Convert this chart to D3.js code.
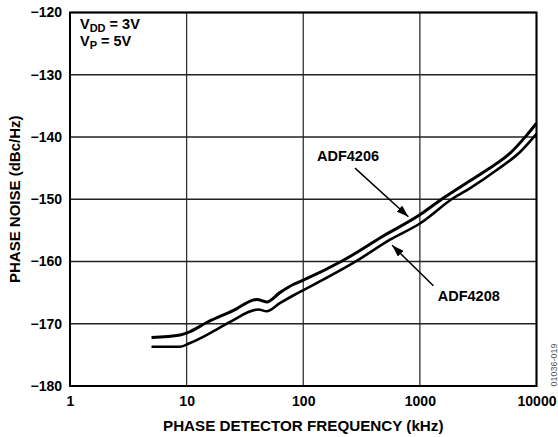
<!DOCTYPE html>
<html lang="en">
<head>
    <meta charset="UTF-8">
    <title>Phase Noise vs Phase Detector Frequency</title>
    <script src="https://cdnjs.cloudflare.com/ajax/libs/d3/7.8.2/d3.min.js"></script>
    <style>
        body { margin: 0; background: #fff; }
        svg { font-family: "Liberation Sans", Arial, sans-serif; font-weight: bold; }
    </style>
</head>
<body>
    <div id="chart"></div>

    <script>
        // tick values
        const xTicks = [1, 10, 100, 1000, 10000];
        const yTicks = [-120, -130, -140, -150, -160, -170, -180];

        // ADF4206 (upper trace)
        const freq4206 = [5, 8.8, 10.3, 14.9, 25, 40, 48.6, 63, 82, 100, 221, 486, 1000, 1590, 2360, 3750, 5940, 8260, 10000];
        const noise4206 = [-172.2, -171.8, -171.4, -169.8, -167.9, -166.1, -166.5, -165.0, -163.7, -163.0, -159.8, -155.9, -152.5, -149.8, -147.7, -145.3, -142.6, -139.7, -137.8];

        // ADF4208 (lower trace)
        const freq4208 = [5, 8.8, 10.7, 15.9, 23.6, 41.2, 48.6, 63, 85, 110, 287, 555, 1000, 1940, 2700, 4560, 7230, 10000];
        const noise4208 = [-173.7, -173.7, -173.1, -171.5, -169.7, -167.7, -168.0, -166.7, -165.3, -164.2, -159.9, -156.5, -153.9, -149.8, -148.2, -145.3, -142.4, -139.5];

        const width = 558, height = 437;
        const margin = { top: 12.5, right: 21.5, bottom: 51, left: 70 };
        const w = width - margin.left - margin.right;
        const h = height - margin.top - margin.bottom;

        const svg = d3.select("#chart")
            .append("svg")
            .attr("width", width)
            .attr("height", height);

        const g = svg.append("g")
            .attr("transform", `translate(${margin.left},${margin.top})`);

        const x = d3.scaleLog().domain([1, 10000]).range([0, w]);
        const y = d3.scaleLinear().domain([-180, -120]).range([h, 0]);

        // grid
        g.append("g")
            .selectAll("line.v")
            .data(xTicks)
            .enter().append("line")
            .attr("x1", d => x(d)).attr("x2", d => x(d))
            .attr("y1", 0).attr("y2", h)
            .attr("stroke", "#333").attr("stroke-width", 1.3);

        g.append("g")
            .selectAll("line.h")
            .data(yTicks)
            .enter().append("line")
            .attr("x1", 0).attr("x2", w)
            .attr("y1", d => y(d)).attr("y2", d => y(d))
            .attr("stroke", "#222").attr("stroke-width", 1.3);

        // frame
        g.append("rect")
            .attr("width", w).attr("height", h)
            .attr("fill", "none")
            .attr("stroke", "#000")
            .attr("stroke-width", 2);

        // axes (labels only)
        const xAxis = g.append("g")
            .attr("transform", `translate(0,${h})`)
            .call(d3.axisBottom(x).tickValues(xTicks).tickFormat(d3.format("d")).tickSize(0).tickPadding(10));
        xAxis.select(".domain").remove();
        xAxis.selectAll("text").attr("font-size", 14).attr("font-family", null).attr("fill", "#000");

        const yAxis = g.append("g")
            .call(d3.axisLeft(y).tickValues(yTicks).tickFormat(d3.format("d")).tickSize(0).tickPadding(8));
        yAxis.select(".domain").remove();
        yAxis.selectAll("text").attr("font-size", 14).attr("font-family", null).attr("fill", "#000");

        // traces
        const line = d3.line()
            .x(d => x(d[0]))
            .y(d => y(d[1]))
            .curve(d3.curveMonotoneX);

        g.append("path")
            .datum(d3.zip(freq4206, noise4206))
            .attr("d", line)
            .attr("fill", "none")
            .attr("stroke", "#000")
            .attr("stroke-width", 3);

        g.append("path")
            .datum(d3.zip(freq4208, noise4208))
            .attr("d", line)
            .attr("fill", "none")
            .attr("stroke", "#000")
            .attr("stroke-width", 2.6);

        // arrows
        svg.append("defs").append("marker")
            .attr("id", "head")
            .attr("viewBox", "0 0 12 8")
            .attr("refX", 12).attr("refY", 4)
            .attr("markerWidth", 12).attr("markerHeight", 8)
            .attr("markerUnits", "userSpaceOnUse")
            .attr("orient", "auto")
            .append("path")
            .attr("d", "M0,0L12,4L0,8Z")
            .attr("fill", "#000");

        const labels = [
            { text: "ADF4206", tx: 242, ty: -143.8, from: [278, -145.0], to: [797, -152.8] },
            { text: "ADF4208", tx: 2625, ty: -166.3, from: [1306, -163.9], to: [578, -157.4] }
        ];

        labels.forEach(l => {
            g.append("line")
                .attr("x1", x(l.from[0])).attr("y1", y(l.from[1]))
                .attr("x2", x(l.to[0])).attr("y2", y(l.to[1]))
                .attr("stroke", "#000").attr("stroke-width", 1.5)
                .attr("marker-end", "url(#head)");
            g.append("text")
                .attr("x", x(l.tx)).attr("y", y(l.ty))
                .attr("text-anchor", "middle")
                .attr("font-size", 14.5)
                .text(l.text);
        });

        // supply conditions
        const cond = g.append("text").attr("font-size", 14.5);
        cond.append("tspan").attr("x", 10).attr("y", 16.5).text("V");
        cond.append("tspan").attr("dy", 3).attr("font-size", 11).text("DD");
        cond.append("tspan").attr("dy", -3).text(" = 3V");
        cond.append("tspan").attr("x", 10).attr("y", 33).text("V");
        cond.append("tspan").attr("dy", 3).attr("font-size", 11).text("P");
        cond.append("tspan").attr("dy", -3).text(" = 5V");

        // axis titles
        svg.append("text")
            .attr("x", margin.left + w / 2)
            .attr("y", 431)
            .attr("text-anchor", "middle")
            .attr("font-size", 15.2)
            .text("PHASE DETECTOR FREQUENCY (kHz)");

        svg.append("text")
            .attr("transform", `translate(20,${margin.top + h / 2}) rotate(-90)`)
            .attr("text-anchor", "middle")
            .attr("font-size", 15)
            .text("PHASE NOISE (dBc/Hz)");

        // figure id
        svg.append("text")
            .attr("transform", `translate(557,365) rotate(-90)`)
            .attr("text-anchor", "middle")
            .attr("font-size", 9)
            .attr("font-weight", "normal")
            .attr("fill", "#555")
            .text("01036-019");
    </script>
</body>
</html>
